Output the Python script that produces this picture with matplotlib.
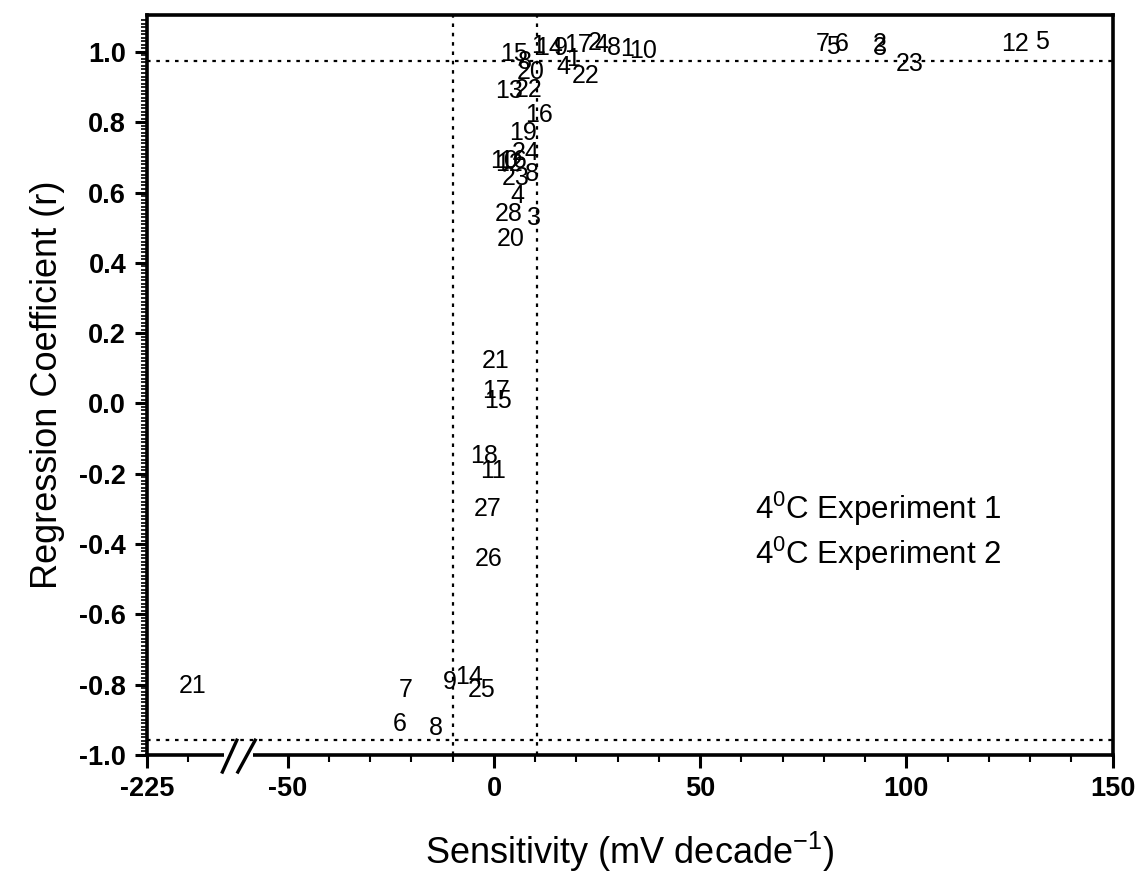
import numpy as np
import matplotlib.pyplot as plt
from matplotlib.ticker import FixedLocator

plt.rcParams['font.family'] = ['Liberation Sans', 'DejaVu Sans']
plt.rcParams['mathtext.default'] = 'regular'

# numbered points: label, sensitivity (mV/decade), regression coefficient r
labels = ['7', '5', '6', '2', '3', '23', '12', '5',
          '15', '1', '14', '9', '17', '2', '4', '8', '1', '10',
          '4', '1', '22', '8', '20', '13', '22', '16', '19', '24',
          '10', '16', '12', '23', '8', '4', '28', '3', '20',
          '21', '17', '15', '18', '11', '27', '26',
          '7', '9', '14', '25', '6', '8', '21']
sens = [79.7, 82.1, 84.3, 93.5, 93.7, 100.7, 126.4, 132.9,
        4.8, 10.7, 13.3, 16.2, 20.3, 24.5, 26.1, 29.1, 32.2, 36.1,
        16.9, 19.1, 22.3, 7.5, 9.0, 3.6, 8.5, 10.9, 7.0, 7.7,
        2.4, 4.6, 3.6, 5.3, 9.2, 5.6, 3.6, 9.7, 4.1,
        0.5, 0.5, 1.0, -2.4, -0.2, -1.5, -1.2,
        -21.3, -10.7, -6.1, -2.9, -22.8, -14.0, -213.9]
coef = [1.022, 1.013, 1.022, 1.022, 1.010, 0.966, 1.022, 1.027,
        0.995, 1.016, 1.010, 1.010, 1.019, 1.024, 1.019, 1.010, 1.007, 1.002,
        0.958, 0.979, 0.932, 0.972, 0.944, 0.890, 0.893, 0.821, 0.770, 0.713,
        0.691, 0.691, 0.682, 0.642, 0.654, 0.591, 0.540, 0.528, 0.469,
        0.122, 0.036, 0.008, -0.149, -0.191, -0.299, -0.442,
        -0.814, -0.792, -0.777, -0.814, -0.911, -0.922, -0.803]

r_limits = [0.975, -0.957]
s_limits = [-10, 10.5]
legend_lines = ['4$^0$C Experiment 1', '4$^0$C Experiment 2']
yticks = [-1.0, -0.8, -0.6, -0.4, -0.2, 0.0, 0.2, 0.4, 0.6, 0.8, 1.0]
xticks = [-225, -50, 0, 50, 100, 150]


# broken x axis: [-225, -203] is shifted next to [-62, 150]
def fwd(x):
    x = np.asarray(x, dtype=float)
    return np.where(x >= -62, x,
                    np.where(x <= -203, x + 140.9, -62.1 + (x + 203) * 0.1 / 141))


def inv(d):
    d = np.asarray(d, dtype=float)
    return np.where(d >= -62, d,
                    np.where(d <= -62.1, d - 140.9, -203 + (d + 62.1) * 141 / 0.1))


fig = plt.figure(figsize=(11.4, 8.82), dpi=100)
ax = fig.add_axes([0.129, 0.144, 0.847, 0.839])
ax.set_xscale('function', functions=(fwd, inv))
ax.set_xlim(-225, 150)
ax.set_ylim(-1.0, 1.105)

for lab, x, y in zip(labels, sens, coef):
    ax.text(x, y, lab, ha='center', va='center', fontsize=18, color='black')

dots = (0, (1.6, 2.6))
for r in r_limits:
    ax.axhline(r, color='black', linestyle=dots, linewidth=1.6)
for s in s_limits:
    ax.axvline(s, color='black', linestyle=dots, linewidth=1.6)

ax.text(0.63, 0.333, legend_lines[0], transform=ax.transAxes, fontsize=22.5, va='center')
ax.text(0.63, 0.272, legend_lines[1], transform=ax.transAxes, fontsize=22.5, va='center')

ax.xaxis.set_major_locator(FixedLocator(xticks))
ax.xaxis.set_minor_locator(FixedLocator([-215] + [v for v in range(-40, 150, 10) if v % 50 != 0]))
ax.yaxis.set_major_locator(FixedLocator(yticks))
ax.yaxis.set_minor_locator(FixedLocator(np.round(np.arange(-1.0, 1.1, 0.01), 2)))
ax.set_xticklabels([str(v) for v in xticks])
ax.set_yticklabels(['%.1f' % v for v in yticks])

ax.tick_params(which='major', direction='out', length=9, width=2.2, labelsize=19.5, pad=6)
ax.tick_params(which='minor', direction='out', length=5, width=1.5)
ax.tick_params(axis='y', which='minor', length=4, width=1.2)
for t in ax.get_xticklabels() + ax.get_yticklabels():
    t.set_fontweight('bold')

for sp in ax.spines.values():
    sp.set_linewidth(2.6)

# break marks on the x axis
ax.add_patch(plt.Rectangle((0.080, -0.012), 0.030, 0.024, transform=ax.transAxes,
                           facecolor='white', edgecolor='none', clip_on=False, zorder=5))
ax.plot([0.078, 0.093], [-0.023, 0.020], transform=ax.transAxes, color='black',
        linewidth=2.4, clip_on=False, zorder=6)
ax.plot([0.094, 0.112], [-0.023, 0.020], transform=ax.transAxes, color='black',
        linewidth=2.4, clip_on=False, zorder=6)

ax.set_xlabel('Sensitivity (mV decade$^{-1}$)', fontsize=26, labelpad=20)
ax.set_ylabel('Regression Coefficient (r)', fontsize=26, labelpad=10)

fig.savefig('out.png', dpi=100)
